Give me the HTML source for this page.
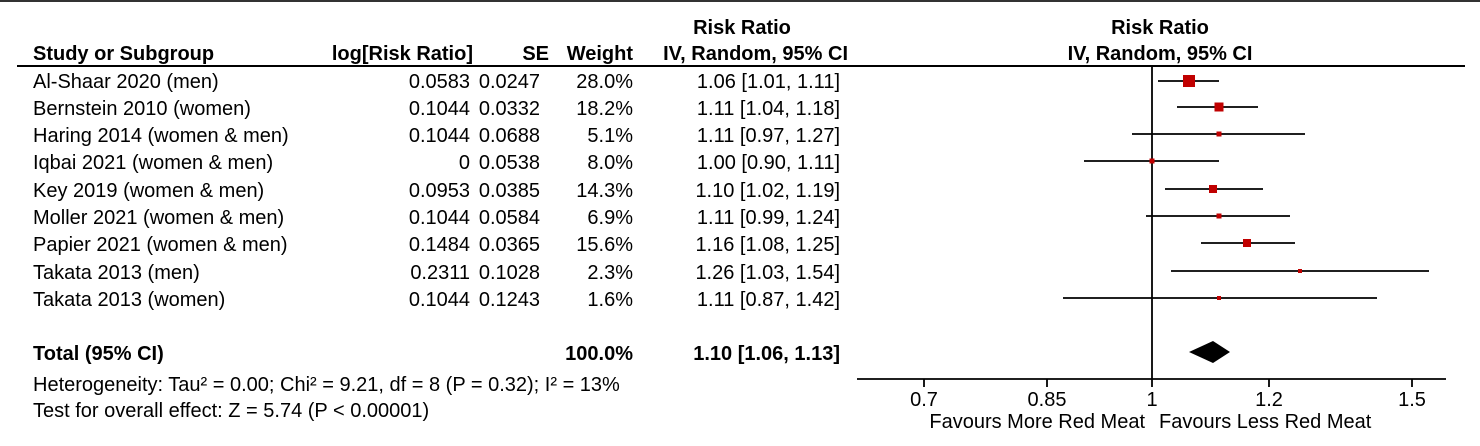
<!DOCTYPE html>
<html><head><meta charset="utf-8"><style>
html,body{margin:0;padding:0;background:#fff;}
svg{display:block;}
text{font-family:"Liberation Sans",Arial,sans-serif;font-size:20px;fill:#000;}
.b{font-weight:bold;}
</style></head><body>
<svg width="1480" height="446" viewBox="0 0 1480 446">
<line x1="0" y1="1" x2="1480" y2="1" stroke="#333" stroke-width="2"/>
<text x="742" y="34" text-anchor="middle" class="b">Risk Ratio</text>
<text x="1160" y="34" text-anchor="middle" class="b">Risk Ratio</text>
<text x="33" y="60" class="b">Study or Subgroup</text>
<text x="473" y="60" text-anchor="end" class="b">log[Risk Ratio]</text>
<text x="549" y="60" text-anchor="end" class="b">SE</text>
<text x="633" y="60" text-anchor="end" class="b">Weight</text>
<text x="848" y="60" text-anchor="end" class="b">IV, Random, 95% CI</text>
<text x="1160" y="60" text-anchor="middle" class="b">IV, Random, 95% CI</text>
<line x1="17" y1="66" x2="1465" y2="66" stroke="#000" stroke-width="2"/>
<g>
<text x="33" y="88">Al-Shaar 2020 (men)</text><text x="470" y="88" text-anchor="end">0.0583</text><text x="540" y="88" text-anchor="end">0.0247</text><text x="633" y="88" text-anchor="end">28.0%</text><text x="840" y="88" text-anchor="end">1.06 [1.01, 1.11]</text>
<text x="33" y="115">Bernstein 2010 (women)</text><text x="470" y="115" text-anchor="end">0.1044</text><text x="540" y="115" text-anchor="end">0.0332</text><text x="633" y="115" text-anchor="end">18.2%</text><text x="840" y="115" text-anchor="end">1.11 [1.04, 1.18]</text>
<text x="33" y="142">Haring 2014 (women &amp; men)</text><text x="470" y="142" text-anchor="end">0.1044</text><text x="540" y="142" text-anchor="end">0.0688</text><text x="633" y="142" text-anchor="end">5.1%</text><text x="840" y="142" text-anchor="end">1.11 [0.97, 1.27]</text>
<text x="33" y="169">Iqbai 2021 (women &amp; men)</text><text x="470" y="169" text-anchor="end">0</text><text x="540" y="169" text-anchor="end">0.0538</text><text x="633" y="169" text-anchor="end">8.0%</text><text x="840" y="169" text-anchor="end">1.00 [0.90, 1.11]</text>
<text x="33" y="197">Key 2019 (women &amp; men)</text><text x="470" y="197" text-anchor="end">0.0953</text><text x="540" y="197" text-anchor="end">0.0385</text><text x="633" y="197" text-anchor="end">14.3%</text><text x="840" y="197" text-anchor="end">1.10 [1.02, 1.19]</text>
<text x="33" y="224">Moller 2021 (women &amp; men)</text><text x="470" y="224" text-anchor="end">0.1044</text><text x="540" y="224" text-anchor="end">0.0584</text><text x="633" y="224" text-anchor="end">6.9%</text><text x="840" y="224" text-anchor="end">1.11 [0.99, 1.24]</text>
<text x="33" y="251">Papier 2021 (women &amp; men)</text><text x="470" y="251" text-anchor="end">0.1484</text><text x="540" y="251" text-anchor="end">0.0365</text><text x="633" y="251" text-anchor="end">15.6%</text><text x="840" y="251" text-anchor="end">1.16 [1.08, 1.25]</text>
<text x="33" y="279">Takata 2013 (men)</text><text x="470" y="279" text-anchor="end">0.2311</text><text x="540" y="279" text-anchor="end">0.1028</text><text x="633" y="279" text-anchor="end">2.3%</text><text x="840" y="279" text-anchor="end">1.26 [1.03, 1.54]</text>
<text x="33" y="306">Takata 2013 (women)</text><text x="470" y="306" text-anchor="end">0.1044</text><text x="540" y="306" text-anchor="end">0.1243</text><text x="633" y="306" text-anchor="end">1.6%</text><text x="840" y="306" text-anchor="end">1.11 [0.87, 1.42]</text>
<text x="33" y="360" class="b">Total (95% CI)</text><text x="633" y="360" text-anchor="end" class="b">100.0%</text><text x="840" y="360" text-anchor="end" class="b">1.10 [1.06, 1.13]</text>
<text x="33" y="391">Heterogeneity: Tau² = 0.00; Chi² = 9.21, df = 8 (P = 0.32); I² = 13%</text>
<text x="33" y="417">Test for overall effect: Z = 5.74 (P &lt; 0.00001)</text>
</g>
<g stroke="#000" stroke-width="1.8">
<line x1="1152" y1="66" x2="1152" y2="379"/>
<line x1="857" y1="379" x2="1446" y2="379"/>
<line x1="924" y1="379" x2="924" y2="387"/>
<line x1="1047" y1="379" x2="1047" y2="387"/>
<line x1="1152" y1="379" x2="1152" y2="387"/>
<line x1="1269" y1="379" x2="1269" y2="387"/>
<line x1="1412" y1="379" x2="1412" y2="387"/>
<line x1="1158" y1="81" x2="1219" y2="81"/>
<line x1="1177" y1="107" x2="1258" y2="107"/>
<line x1="1132" y1="134" x2="1305" y2="134"/>
<line x1="1084" y1="161" x2="1219" y2="161"/>
<line x1="1165" y1="189" x2="1263" y2="189"/>
<line x1="1146" y1="216" x2="1290" y2="216"/>
<line x1="1201" y1="243" x2="1295" y2="243"/>
<line x1="1171" y1="271" x2="1429" y2="271"/>
<line x1="1063" y1="298" x2="1377" y2="298"/>
</g>
<g fill="#c00000">
<rect x="1183" y="75" width="12" height="12"/>
<rect x="1214.5" y="102.5" width="9" height="9"/>
<rect x="1216.5" y="131.5" width="5" height="5"/>
<rect x="1149.5" y="158.5" width="5" height="5"/>
<rect x="1209" y="185" width="8" height="8"/>
<rect x="1216.5" y="213.5" width="5" height="5"/>
<rect x="1243" y="239" width="8" height="8"/>
<rect x="1298" y="269" width="4" height="4"/>
<rect x="1217" y="296" width="4" height="4"/>
</g>
<polygon points="1189,352 1213,341 1230,352 1213,363" fill="#000"/>
<text x="924" y="406" text-anchor="middle">0.7</text>
<text x="1047" y="406" text-anchor="middle">0.85</text>
<text x="1152" y="406" text-anchor="middle">1</text>
<text x="1269" y="406" text-anchor="middle">1.2</text>
<text x="1412" y="406" text-anchor="middle">1.5</text>
<text x="1145" y="428" text-anchor="end">Favours More Red Meat</text>
<text x="1159" y="428">Favours Less Red Meat</text>
</svg>
</body></html>
